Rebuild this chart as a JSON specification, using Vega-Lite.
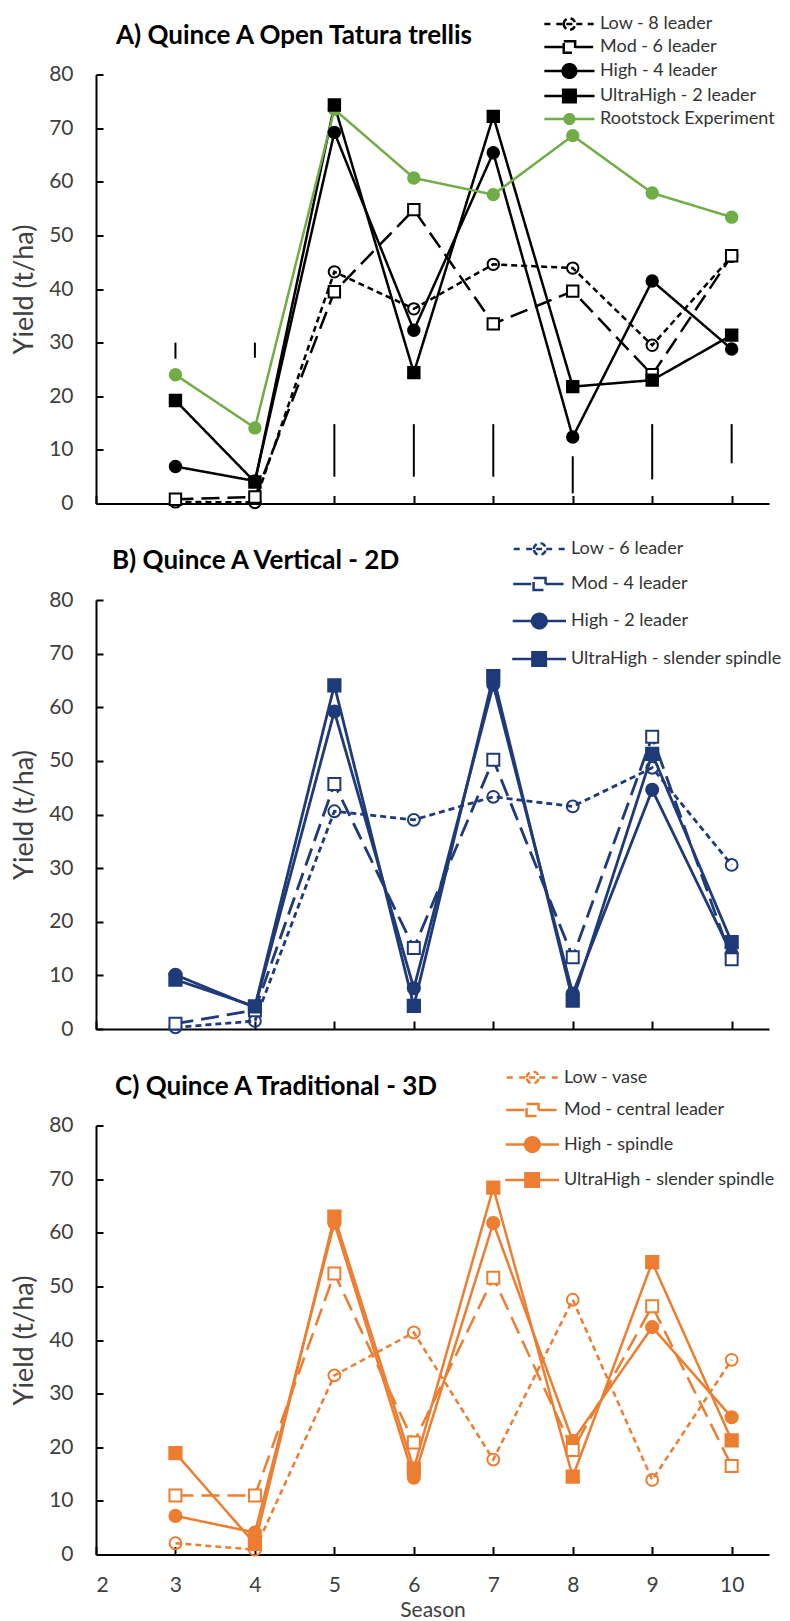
{
  "$schema": "https://vega.github.io/schema/vega-lite/v6.json",
  "padding": {"left": 10, "top": 14.5, "right": 5, "bottom": 2},
  "spacing": 96.5,
  "bounds": "flush",
  "resolve": {"scale": {"stroke": "independent", "fill": "independent", "size": "independent", "strokeDash": "independent", "shape": "independent"}},
  "datasets": {
    "A": [
      {"series": "Low - 8 leader", "season": 3, "yield": 0.3}, {"series": "Low - 8 leader", "season": 4, "yield": 0.2}, {"series": "Low - 8 leader", "season": 5, "yield": 43.2}, {"series": "Low - 8 leader", "season": 6, "yield": 36.3}, {"series": "Low - 8 leader", "season": 7, "yield": 44.6}, {"series": "Low - 8 leader", "season": 8, "yield": 43.9}, {"series": "Low - 8 leader", "season": 9, "yield": 29.5}, {"series": "Low - 8 leader", "season": 10, "yield": 46.1},
      {"series": "Mod - 6 leader", "season": 3, "yield": 0.8}, {"series": "Mod - 6 leader", "season": 4, "yield": 1.2}, {"series": "Mod - 6 leader", "season": 5, "yield": 39.5}, {"series": "Mod - 6 leader", "season": 6, "yield": 54.8}, {"series": "Mod - 6 leader", "season": 7, "yield": 33.5}, {"series": "Mod - 6 leader", "season": 8, "yield": 39.6}, {"series": "Mod - 6 leader", "season": 9, "yield": 24.0}, {"series": "Mod - 6 leader", "season": 10, "yield": 46.2},
      {"series": "High - 4 leader", "season": 3, "yield": 6.9}, {"series": "High - 4 leader", "season": 4, "yield": 4.2}, {"series": "High - 4 leader", "season": 5, "yield": 69.2}, {"series": "High - 4 leader", "season": 6, "yield": 32.3}, {"series": "High - 4 leader", "season": 7, "yield": 65.4}, {"series": "High - 4 leader", "season": 8, "yield": 12.4}, {"series": "High - 4 leader", "season": 9, "yield": 41.5}, {"series": "High - 4 leader", "season": 10, "yield": 28.8},
      {"series": "UltraHigh - 2 leader", "season": 3, "yield": 19.2}, {"series": "UltraHigh - 2 leader", "season": 4, "yield": 4.0}, {"series": "UltraHigh - 2 leader", "season": 5, "yield": 74.3}, {"series": "UltraHigh - 2 leader", "season": 6, "yield": 24.4}, {"series": "UltraHigh - 2 leader", "season": 7, "yield": 72.2}, {"series": "UltraHigh - 2 leader", "season": 8, "yield": 21.8}, {"series": "UltraHigh - 2 leader", "season": 9, "yield": 23.0}, {"series": "UltraHigh - 2 leader", "season": 10, "yield": 31.4},
      {"series": "Rootstock Experiment", "season": 3, "yield": 24.0}, {"series": "Rootstock Experiment", "season": 4, "yield": 14.1}, {"series": "Rootstock Experiment", "season": 5, "yield": 73.5}, {"series": "Rootstock Experiment", "season": 6, "yield": 60.7}, {"series": "Rootstock Experiment", "season": 7, "yield": 57.6}, {"series": "Rootstock Experiment", "season": 8, "yield": 68.6}, {"series": "Rootstock Experiment", "season": 9, "yield": 57.9}, {"series": "Rootstock Experiment", "season": 10, "yield": 53.4}
    ],
    "A_bars": [
      {"season": 3, "yield": 27.0, "hi": 30.0}, {"season": 4, "yield": 27.2, "hi": 30.0}, {"season": 5, "yield": 5.0, "hi": 14.8}, {"season": 6, "yield": 5.0, "hi": 14.8}, {"season": 7, "yield": 5.0, "hi": 14.8}, {"season": 8, "yield": 1.9, "hi": 8.8}, {"season": 9, "yield": 4.5, "hi": 14.8}, {"season": 10, "yield": 7.5, "hi": 14.8}
    ],
    "B": [
      {"series": "Low - 6 leader", "season": 3, "yield": 0.3}, {"series": "Low - 6 leader", "season": 4, "yield": 1.5}, {"series": "Low - 6 leader", "season": 5, "yield": 40.6}, {"series": "Low - 6 leader", "season": 6, "yield": 39.0}, {"series": "Low - 6 leader", "season": 7, "yield": 43.3}, {"series": "Low - 6 leader", "season": 8, "yield": 41.5}, {"series": "Low - 6 leader", "season": 9, "yield": 48.7}, {"series": "Low - 6 leader", "season": 10, "yield": 30.6},
      {"series": "Mod - 4 leader", "season": 3, "yield": 1.0}, {"series": "Mod - 4 leader", "season": 4, "yield": 3.5}, {"series": "Mod - 4 leader", "season": 5, "yield": 45.7}, {"series": "Mod - 4 leader", "season": 6, "yield": 15.1}, {"series": "Mod - 4 leader", "season": 7, "yield": 50.2}, {"series": "Mod - 4 leader", "season": 8, "yield": 13.4}, {"series": "Mod - 4 leader", "season": 9, "yield": 54.5}, {"series": "Mod - 4 leader", "season": 10, "yield": 13.0},
      {"series": "High - 2 leader", "season": 3, "yield": 10.1}, {"series": "High - 2 leader", "season": 4, "yield": 4.0}, {"series": "High - 2 leader", "season": 5, "yield": 59.2}, {"series": "High - 2 leader", "season": 6, "yield": 7.6}, {"series": "High - 2 leader", "season": 7, "yield": 64.2}, {"series": "High - 2 leader", "season": 8, "yield": 6.6}, {"series": "High - 2 leader", "season": 9, "yield": 44.6}, {"series": "High - 2 leader", "season": 10, "yield": 14.0},
      {"series": "UltraHigh - slender spindle", "season": 3, "yield": 9.2}, {"series": "UltraHigh - slender spindle", "season": 4, "yield": 4.2}, {"series": "UltraHigh - slender spindle", "season": 5, "yield": 64.1}, {"series": "UltraHigh - slender spindle", "season": 6, "yield": 4.3}, {"series": "UltraHigh - slender spindle", "season": 7, "yield": 65.8}, {"series": "UltraHigh - slender spindle", "season": 8, "yield": 5.3}, {"series": "UltraHigh - slender spindle", "season": 9, "yield": 51.3}, {"series": "UltraHigh - slender spindle", "season": 10, "yield": 16.2}
    ],
    "C": [
      {"series": "Low - vase", "season": 3, "yield": 2.1}, {"series": "Low - vase", "season": 4, "yield": 0.9}, {"series": "Low - vase", "season": 5, "yield": 33.4}, {"series": "Low - vase", "season": 6, "yield": 41.4}, {"series": "Low - vase", "season": 7, "yield": 17.7}, {"series": "Low - vase", "season": 8, "yield": 47.5}, {"series": "Low - vase", "season": 9, "yield": 13.9}, {"series": "Low - vase", "season": 10, "yield": 36.3},
      {"series": "Mod - central leader", "season": 3, "yield": 11.0}, {"series": "Mod - central leader", "season": 4, "yield": 11.0}, {"series": "Mod - central leader", "season": 5, "yield": 52.4}, {"series": "Mod - central leader", "season": 6, "yield": 20.9}, {"series": "Mod - central leader", "season": 7, "yield": 51.6}, {"series": "Mod - central leader", "season": 8, "yield": 19.5}, {"series": "Mod - central leader", "season": 9, "yield": 46.3}, {"series": "Mod - central leader", "season": 10, "yield": 16.5},
      {"series": "High - spindle", "season": 3, "yield": 7.2}, {"series": "High - spindle", "season": 4, "yield": 4.1}, {"series": "High - spindle", "season": 5, "yield": 61.8}, {"series": "High - spindle", "season": 6, "yield": 14.3}, {"series": "High - spindle", "season": 7, "yield": 61.8}, {"series": "High - spindle", "season": 8, "yield": 21.2}, {"series": "High - spindle", "season": 9, "yield": 42.4}, {"series": "High - spindle", "season": 10, "yield": 25.6},
      {"series": "UltraHigh - slender spindle", "season": 3, "yield": 18.9}, {"series": "UltraHigh - slender spindle", "season": 4, "yield": 2.0}, {"series": "UltraHigh - slender spindle", "season": 5, "yield": 63.0}, {"series": "UltraHigh - slender spindle", "season": 6, "yield": 16.0}, {"series": "UltraHigh - slender spindle", "season": 7, "yield": 68.4}, {"series": "UltraHigh - slender spindle", "season": 8, "yield": 14.5}, {"series": "UltraHigh - slender spindle", "season": 9, "yield": 54.5}, {"series": "UltraHigh - slender spindle", "season": 10, "yield": 21.3}
    ]
  },
  "vconcat": [
    {
      "width": 673, "height": 429,
      "title": {"text": "A) Quince A Open Tatura trellis", "anchor": "start", "frame": "group", "dx": 20, "offset": -55.3, "baseline": "alphabetic", "font": "Lato", "fontSize": 26, "fontWeight": "bold", "color": "#000000"},
      "encoding": {
        "x": {"field": "season", "type": "quantitative", "scale": {"domain": [2, 10.47], "nice": false, "zero": false}, "axis": {"values": [2, 3, 4, 5, 6, 7, 8, 9, 10], "labels": false, "title": null}},
        "y": {"field": "yield", "type": "quantitative", "scale": {"domain": [0, 80], "nice": false}, "axis": {"values": [0, 10, 20, 30, 40, 50, 60, 70, 80], "title": "Yield (t/ha)"}}
      },
      "layer": [
        {"data": {"name": "A"}, "transform": [{"filter": "false"}],
         "mark": {"type": "point", "filled": true, "strokeWidth": 2.5, "opacity": 1},
         "encoding": {
           "shape": {"field": "series", "type": "nominal", "scale": {"domain": ["Low - 8 leader", "Mod - 6 leader", "High - 4 leader", "UltraHigh - 2 leader", "Rootstock Experiment"], "range": ["M-7.48,0L-6.28,0M-5.38,0L-0.78,0M0.12,0L1.32,0M-4.08,0A1,1 0 1,1 -2.08,0A1,1 0 1,1 -4.08,0Z", "M-7.48,0L-4.08,0M-2.08,0L1.32,0M-4.08,-1L-2.08,-1L-2.08,1L-4.08,1Z", "M-7.48,0L1.32,0M-4.28,0A1.2,1.2 0 1,1 -1.88,0A1.2,1.2 0 1,1 -4.28,0Z", "M-7.48,0L1.32,0M-4.18,-1.1L-1.98,-1.1L-1.98,1.1L-4.18,1.1Z", "M-7.48,0L1.32,0M-3.93,0A0.85,0.85 0 1,1 -2.23,0A0.85,0.85 0 1,1 -3.93,0Z"]},
             "legend": {"orient": "none", "legendX": 482, "legendY": -59.5, "title": null, "rowPadding": 1, "padding": 0, "symbolSize": 144, "symbolStrokeWidth": 2.5, "labelOffset": 4, "labelLimit": 400, "labelFont": "Lato", "labelFontSize": 18, "labelColor": "#333333"}},
           "stroke": {"field": "series", "type": "nominal", "scale": {"domain": ["Low - 8 leader", "Mod - 6 leader", "High - 4 leader", "UltraHigh - 2 leader", "Rootstock Experiment"], "range": ["#000000", "#000000", "#000000", "#000000", "#70AD47"]},
             "legend": {"orient": "none", "legendX": 482, "legendY": -59.5, "title": null, "rowPadding": 1, "padding": 0, "symbolSize": 144, "symbolStrokeWidth": 2.5, "labelOffset": 4, "labelLimit": 400, "labelFont": "Lato", "labelFontSize": 18, "labelColor": "#333333"}},
           "fill": {"field": "series", "type": "nominal", "scale": {"domain": ["Low - 8 leader", "Mod - 6 leader", "High - 4 leader", "UltraHigh - 2 leader", "Rootstock Experiment"], "range": ["transparent", "#ffffff", "#000000", "#000000", "#70AD47"]},
             "legend": {"orient": "none", "legendX": 482, "legendY": -59.5, "title": null, "rowPadding": 1, "padding": 0, "symbolSize": 144, "symbolStrokeWidth": 2.5, "labelOffset": 4, "labelLimit": 400, "labelFont": "Lato", "labelFontSize": 18, "labelColor": "#333333"}}
         }},
        {"data": {"name": "A_bars"}, "mark": {"type": "rule", "color": "#000000", "strokeWidth": 2}, "encoding": {"y2": {"field": "hi"}}},
        {"data": {"name": "A"}, "mark": {"type": "line", "strokeWidth": 2.5},
         "encoding": {
           "stroke": {"field": "series", "type": "nominal", "legend": null},
           "strokeDash": {"field": "series", "type": "nominal", "scale": {"domain": ["Low - 8 leader", "Mod - 6 leader", "High - 4 leader", "UltraHigh - 2 leader", "Rootstock Experiment"], "range": [[6, 4], [18, 8], [1, 0], [1, 0], [1, 0]]}, "legend": null}
         }},
        {"data": {"name": "A"}, "transform": [{"filter": {"field": "series", "oneOf": ["Low - 8 leader", "High - 4 leader", "Rootstock Experiment"]}}],
         "mark": {"type": "point", "shape": "circle", "filled": true, "strokeWidth": 2, "opacity": 1},
         "encoding": {
           "stroke": {"field": "series", "type": "nominal", "legend": null},
           "fill": {"field": "series", "type": "nominal", "legend": null},
           "size": {"field": "series", "type": "nominal", "scale": {"domain": ["Low - 8 leader", "Mod - 6 leader", "High - 4 leader", "UltraHigh - 2 leader", "Rootstock Experiment"], "range": [130, 130, 200, 169, 90]}, "legend": null}
         }},
        {"data": {"name": "A"}, "transform": [{"filter": {"field": "series", "oneOf": ["Mod - 6 leader", "UltraHigh - 2 leader"]}}],
         "mark": {"type": "point", "shape": "square", "filled": true, "strokeWidth": 2, "opacity": 1},
         "encoding": {
           "stroke": {"field": "series", "type": "nominal", "legend": null},
           "fill": {"field": "series", "type": "nominal", "legend": null},
           "size": {"field": "series", "type": "nominal", "legend": null}
         }}
      ]
    },
    {
      "width": 673, "height": 429,
      "title": {"text": "B) Quince A Vertical - 2D", "anchor": "start", "frame": "group", "dx": 16, "offset": -55.4, "baseline": "alphabetic", "font": "Lato", "fontSize": 26, "fontWeight": "bold", "color": "#000000"},
      "encoding": {
        "x": {"field": "season", "type": "quantitative", "scale": {"domain": [2, 10.47], "nice": false, "zero": false}, "axis": {"values": [2, 3, 4, 5, 6, 7, 8, 9, 10], "labels": false, "title": null}},
        "y": {"field": "yield", "type": "quantitative", "scale": {"domain": [0, 80], "nice": false}, "axis": {"values": [0, 10, 20, 30, 40, 50, 60, 70, 80], "title": "Yield (t/ha)"}}
      },
      "layer": [
        {"data": {"name": "B"}, "transform": [{"filter": "false"}],
         "mark": {"type": "point", "filled": true, "strokeWidth": 2.5, "opacity": 1},
         "encoding": {
           "shape": {"field": "series", "type": "nominal", "scale": {"domain": ["Low - 6 leader", "Mod - 4 leader", "High - 2 leader", "UltraHigh - slender spindle"], "range": ["M-7.48,0L-6.28,0M-5.38,0L-0.78,0M0.12,0L1.32,0M-4.08,0A1,1 0 1,1 -2.08,0A1,1 0 1,1 -4.08,0Z", "M-7.48,0L-4.08,0M-2.08,0L1.32,0M-4.08,-1L-2.08,-1L-2.08,1L-4.08,1Z", "M-7.48,0L1.32,0M-4.28,0A1.2,1.2 0 1,1 -1.88,0A1.2,1.2 0 1,1 -4.28,0Z", "M-7.48,0L1.32,0M-4.18,-1.1L-1.98,-1.1L-1.98,1.1L-4.18,1.1Z"]},
             "legend": {"orient": "none", "legendX": 453, "legendY": -60, "title": null, "rowPadding": 13, "padding": 0, "symbolSize": 144, "symbolStrokeWidth": 2.5, "labelOffset": 4, "labelLimit": 400, "labelFont": "Lato", "labelFontSize": 18, "labelColor": "#333333"}},
           "stroke": {"field": "series", "type": "nominal", "scale": {"domain": ["Low - 6 leader", "Mod - 4 leader", "High - 2 leader", "UltraHigh - slender spindle"], "range": ["#1F3A78", "#1F3A78", "#1F3A78", "#1F3A78"]},
             "legend": {"orient": "none", "legendX": 453, "legendY": -60, "title": null, "rowPadding": 13, "padding": 0, "symbolSize": 144, "symbolStrokeWidth": 2.5, "labelOffset": 4, "labelLimit": 400, "labelFont": "Lato", "labelFontSize": 18, "labelColor": "#333333"}},
           "fill": {"field": "series", "type": "nominal", "scale": {"domain": ["Low - 6 leader", "Mod - 4 leader", "High - 2 leader", "UltraHigh - slender spindle"], "range": ["transparent", "#ffffff", "#1F3A78", "#1F3A78"]},
             "legend": {"orient": "none", "legendX": 453, "legendY": -60, "title": null, "rowPadding": 13, "padding": 0, "symbolSize": 144, "symbolStrokeWidth": 2.5, "labelOffset": 4, "labelLimit": 400, "labelFont": "Lato", "labelFontSize": 18, "labelColor": "#333333"}}
         }},
        {"data": {"name": "B"}, "mark": {"type": "line", "strokeWidth": 2.8},
         "encoding": {
           "stroke": {"field": "series", "type": "nominal", "legend": null},
           "strokeDash": {"field": "series", "type": "nominal", "scale": {"domain": ["Low - 6 leader", "Mod - 4 leader", "High - 2 leader", "UltraHigh - slender spindle"], "range": [[6, 4], [18, 8], [1, 0], [1, 0]]}, "legend": null}
         }},
        {"data": {"name": "B"}, "transform": [{"filter": {"field": "series", "oneOf": ["Low - 6 leader", "High - 2 leader"]}}],
         "mark": {"type": "point", "shape": "circle", "filled": true, "strokeWidth": 2, "opacity": 1},
         "encoding": {
           "stroke": {"field": "series", "type": "nominal", "legend": null},
           "fill": {"field": "series", "type": "nominal", "legend": null},
           "size": {"field": "series", "type": "nominal", "scale": {"domain": ["Low - 6 leader", "Mod - 4 leader", "High - 2 leader", "UltraHigh - slender spindle"], "range": [140, 150, 210, 180]}, "legend": null}
         }},
        {"data": {"name": "B"}, "transform": [{"filter": {"field": "series", "oneOf": ["Mod - 4 leader", "UltraHigh - slender spindle"]}}],
         "mark": {"type": "point", "shape": "square", "filled": true, "strokeWidth": 2, "opacity": 1},
         "encoding": {
           "stroke": {"field": "series", "type": "nominal", "legend": null},
           "fill": {"field": "series", "type": "nominal", "legend": null},
           "size": {"field": "series", "type": "nominal", "legend": null}
         }}
      ]
    },
    {
      "width": 673, "height": 429,
      "title": {"text": "C) Quince A Traditional - 3D", "anchor": "start", "frame": "group", "dx": 19, "offset": -52.8, "baseline": "alphabetic", "font": "Lato", "fontSize": 26, "fontWeight": "bold", "color": "#000000"},
      "encoding": {
        "x": {"field": "season", "type": "quantitative", "scale": {"domain": [2, 10.47], "nice": false, "zero": false}, "axis": {"values": [2, 3, 4, 5, 6, 7, 8, 9, 10], "title": "Season"}},
        "y": {"field": "yield", "type": "quantitative", "scale": {"domain": [0, 80], "nice": false}, "axis": {"values": [0, 10, 20, 30, 40, 50, 60, 70, 80], "title": "Yield (t/ha)"}}
      },
      "layer": [
        {"data": {"name": "C"}, "transform": [{"filter": "false"}],
         "mark": {"type": "point", "filled": true, "strokeWidth": 2.5, "opacity": 1},
         "encoding": {
           "shape": {"field": "series", "type": "nominal", "scale": {"domain": ["Low - vase", "Mod - central leader", "High - spindle", "UltraHigh - slender spindle"], "range": ["M-7.48,0L-6.28,0M-5.38,0L-0.78,0M0.12,0L1.32,0M-4.08,0A1,1 0 1,1 -2.08,0A1,1 0 1,1 -4.08,0Z", "M-7.48,0L-4.08,0M-2.08,0L1.32,0M-4.08,-1L-2.08,-1L-2.08,1L-4.08,1Z", "M-7.48,0L1.32,0M-4.28,0A1.2,1.2 0 1,1 -1.88,0A1.2,1.2 0 1,1 -4.28,0Z", "M-7.48,0L1.32,0M-4.18,-1.1L-1.98,-1.1L-1.98,1.1L-4.18,1.1Z"]},
             "legend": {"orient": "none", "legendX": 446, "legendY": -57, "title": null, "rowPadding": 10.5, "padding": 0, "symbolSize": 144, "symbolStrokeWidth": 2.5, "labelOffset": 4, "labelLimit": 400, "labelFont": "Lato", "labelFontSize": 18, "labelColor": "#333333"}},
           "stroke": {"field": "series", "type": "nominal", "scale": {"domain": ["Low - vase", "Mod - central leader", "High - spindle", "UltraHigh - slender spindle"], "range": ["#ED7D31", "#ED7D31", "#ED7D31", "#ED7D31"]},
             "legend": {"orient": "none", "legendX": 446, "legendY": -57, "title": null, "rowPadding": 10.5, "padding": 0, "symbolSize": 144, "symbolStrokeWidth": 2.5, "labelOffset": 4, "labelLimit": 400, "labelFont": "Lato", "labelFontSize": 18, "labelColor": "#333333"}},
           "fill": {"field": "series", "type": "nominal", "scale": {"domain": ["Low - vase", "Mod - central leader", "High - spindle", "UltraHigh - slender spindle"], "range": ["transparent", "#ffffff", "#ED7D31", "#ED7D31"]},
             "legend": {"orient": "none", "legendX": 446, "legendY": -57, "title": null, "rowPadding": 10.5, "padding": 0, "symbolSize": 144, "symbolStrokeWidth": 2.5, "labelOffset": 4, "labelLimit": 400, "labelFont": "Lato", "labelFontSize": 18, "labelColor": "#333333"}}
         }},
        {"data": {"name": "C"}, "mark": {"type": "line", "strokeWidth": 2.5},
         "encoding": {
           "stroke": {"field": "series", "type": "nominal", "legend": null},
           "strokeDash": {"field": "series", "type": "nominal", "scale": {"domain": ["Low - vase", "Mod - central leader", "High - spindle", "UltraHigh - slender spindle"], "range": [[6, 4], [18, 8], [1, 0], [1, 0]]}, "legend": null}
         }},
        {"data": {"name": "C"}, "transform": [{"filter": {"field": "series", "oneOf": ["Low - vase", "High - spindle"]}}],
         "mark": {"type": "point", "shape": "circle", "filled": true, "strokeWidth": 2, "opacity": 1},
         "encoding": {
           "stroke": {"field": "series", "type": "nominal", "legend": null},
           "fill": {"field": "series", "type": "nominal", "legend": null},
           "size": {"field": "series", "type": "nominal", "scale": {"domain": ["Low - vase", "Mod - central leader", "High - spindle", "UltraHigh - slender spindle"], "range": [140, 150, 210, 180]}, "legend": null}
         }},
        {"data": {"name": "C"}, "transform": [{"filter": {"field": "series", "oneOf": ["Mod - central leader", "UltraHigh - slender spindle"]}}],
         "mark": {"type": "point", "shape": "square", "filled": true, "strokeWidth": 2, "opacity": 1},
         "encoding": {
           "stroke": {"field": "series", "type": "nominal", "legend": null},
           "fill": {"field": "series", "type": "nominal", "legend": null},
           "size": {"field": "series", "type": "nominal", "legend": null}
         }}
      ]
    }
  ],
  "config": {
    "view": {"stroke": null},
    "font": "Lato",
    "axis": {"grid": false, "domainColor": "#000000", "domainWidth": 2, "tickColor": "#000000", "tickWidth": 2, "labelFont": "Lato", "labelFontSize": 21, "labelColor": "#404040", "titleFont": "Lato", "titleFontSize": 27, "titleFontWeight": "normal", "titleColor": "#404040"},
    "axisY": {"tickSize": -7, "labelPadding": 30, "titlePadding": 10},
    "axisX": {"tickSize": -8, "labelPadding": 28, "titlePadding": 4, "titleFontSize": 21},
    "legend": {"padding": 0, "symbolSize": 144, "symbolStrokeWidth": 2.5, "labelOffset": 4, "labelLimit": 400, "labelFont": "Lato", "labelFontSize": 18, "labelColor": "#333333"}
  }
}
